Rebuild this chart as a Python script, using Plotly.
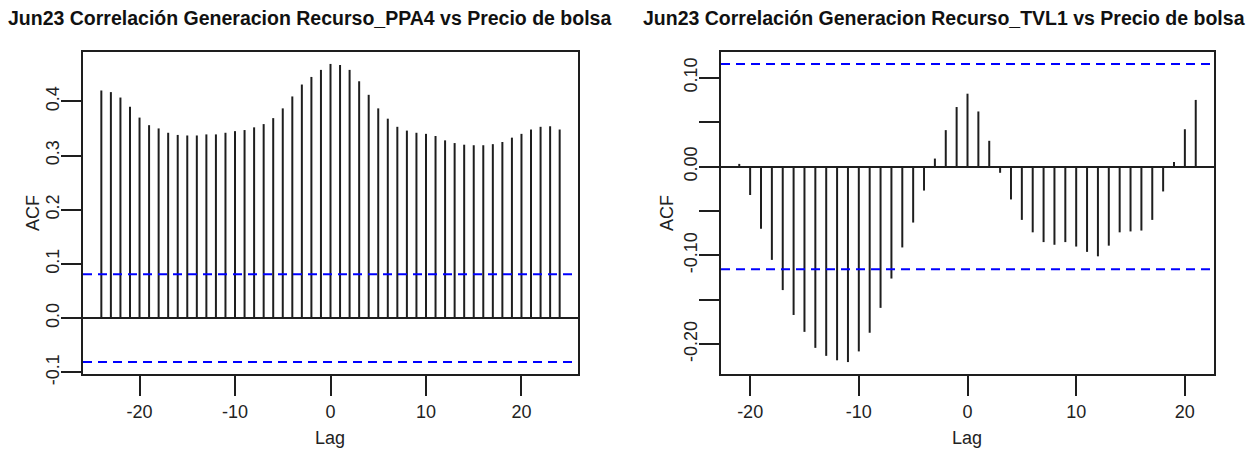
import plotly.graph_objects as go

# Cross-correlation estimates (lag vs ACF) for each resource
lags_ppa4 = list(range(-24, 25))
acf_ppa4 = [
    0.420, 0.417, 0.407, 0.390, 0.370, 0.356, 0.350, 0.342, 0.338, 0.337,
    0.337, 0.339, 0.339, 0.342, 0.345, 0.347, 0.352, 0.358, 0.369, 0.387,
    0.409, 0.431, 0.445, 0.458, 0.469, 0.467, 0.458, 0.437, 0.412, 0.387,
    0.368, 0.353, 0.346, 0.342, 0.340, 0.336, 0.328, 0.323, 0.320, 0.319,
    0.319, 0.321, 0.325, 0.333, 0.340, 0.348, 0.353, 0.354, 0.348,
]
ci_ppa4 = 0.081

lags_tvl1 = list(range(-21, 22))
acf_tvl1 = [
    0.003, -0.032, -0.070, -0.105, -0.139, -0.167, -0.186, -0.204, -0.213, -0.218,
    -0.220, -0.208, -0.187, -0.159, -0.126, -0.091, -0.063, -0.027, 0.009, 0.041,
    0.067, 0.082, 0.062, 0.029, -0.007, -0.037, -0.060, -0.074, -0.085, -0.088,
    -0.085, -0.090, -0.096, -0.101, -0.089, -0.074, -0.073, -0.072, -0.060, -0.028,
    0.005, 0.042, 0.075,
]
ci_tvl1 = 0.1155

titles = [
    "Jun23 Correlación Generacion Recurso_PPA4 vs Precio de bolsa",
    "Jun23 Correlación Generacion Recurso_TVL1 vs Precio de bolsa",
]
x_ticks = [-20, -10, 0, 10, 20]
x_text = ["-20", "-10", "0", "10", "20"]
y_ticks_ppa4 = [-0.1, 0.0, 0.1, 0.2, 0.3, 0.4]
y_text_ppa4 = ["-0.1", "0.0", "0.1", "0.2", "0.3", "0.4"]
y_ticks_tvl1 = [-0.20, -0.15, -0.10, -0.05, 0.00, 0.05, 0.10]
y_text_tvl1 = ["-0.20", "", "-0.10", "", "0.00", "", "0.10"]

W, H = 1250, 453
INK = "#1e1e1e"
FONT = "Liberation Sans, Arial, Helvetica, sans-serif"


def spikes(lags, vals):
    xs, ys = [], []
    for l, v in zip(lags, vals):
        xs += [l, l, None]
        ys += [0, v, None]
    return xs, ys


def padded(lo, hi, frac=0.04):
    d = (hi - lo) * frac
    return [lo - d, hi + d]


fig = go.Figure()

panels = [
    (lags_ppa4, acf_ppa4, ci_ppa4, "x", "y"),
    (lags_tvl1, acf_tvl1, ci_tvl1, "x2", "y2"),
]
for lags, vals, ci, xa, ya in panels:
    xs, ys = spikes(lags, vals)
    fig.add_trace(go.Scatter(
        x=xs, y=ys, mode="lines", xaxis=xa, yaxis=ya,
        line=dict(color=INK, width=2), hoverinfo="skip", showlegend=False,
    ))
    for c in (ci, -ci):
        fig.add_shape(
            type="line", xref=f"{xa} domain", yref=ya, x0=0, x1=1, y0=c, y1=c,
            line=dict(color="#0000ff", width=2, dash="9px,6px"),
        )

axis_common = dict(
    showline=True, mirror=True, linecolor=INK, linewidth=2,
    ticks="outside", ticklen=20, tickwidth=2, tickcolor=INK,
    showgrid=False, automargin=False,
    tickfont=dict(family=FONT, size=18, color="#222"),
)

y_dom = [1 - 374 / H, 1 - 52 / H]

fig.update_layout(
    width=W, height=H, autosize=False,
    margin=dict(l=0, r=0, t=0, b=0, pad=0),
    paper_bgcolor="white", plot_bgcolor="white",
    showlegend=False,
    xaxis=dict(
        domain=[83 / W, 578 / W],
        range=padded(min(lags_ppa4), max(lags_ppa4)),
        tickvals=x_ticks, ticktext=x_text, zeroline=False, **axis_common,
    ),
    yaxis=dict(
        domain=y_dom,
        range=padded(min(acf_ppa4 + [-ci_ppa4]), max(acf_ppa4 + [ci_ppa4])),
        tickvals=y_ticks_ppa4, ticktext=y_text_ppa4, tickangle=-90,
        ticklabelstandoff=-5,
        zeroline=True, zerolinecolor=INK, zerolinewidth=2, **axis_common,
    ),
    xaxis2=dict(
        domain=[721 / W, 1214 / W], anchor="y2",
        range=padded(min(lags_tvl1), max(lags_tvl1)),
        tickvals=x_ticks, ticktext=x_text, zeroline=False, **axis_common,
    ),
    yaxis2=dict(
        domain=y_dom, anchor="x2",
        range=padded(min(acf_tvl1 + [-ci_tvl1]), max(acf_tvl1 + [ci_tvl1])),
        tickvals=y_ticks_tvl1, ticktext=y_text_tvl1, tickangle=-90,
        ticklabelstandoff=-5,
        zeroline=True, zerolinecolor=INK, zerolinewidth=2, **axis_common,
    ),
)

label_font = dict(family=FONT, size=18, color="#222")
title_font = dict(family=FONT, size=19.5, color="#111")
for cx, cy_label, title in [(309, 33, titles[0]), (944, 667, titles[1])]:
    fig.add_annotation(
        text=f"<b>{title}</b>", xref="paper", yref="paper",
        x=cx / W, y=1 - 18 / H, showarrow=False, font=title_font,
        xanchor="center", yanchor="middle",
    )
    fig.add_annotation(
        text="ACF", xref="paper", yref="paper", textangle=-90,
        x=cy_label / W, y=1 - 213 / H, showarrow=False, font=label_font,
        xanchor="center", yanchor="middle",
    )
for cx in (330, 967):
    fig.add_annotation(
        text="Lag", xref="paper", yref="paper",
        x=cx / W, y=1 - 438 / H, showarrow=False, font=label_font,
        xanchor="center", yanchor="middle",
    )

fig.write_html("out.html")
